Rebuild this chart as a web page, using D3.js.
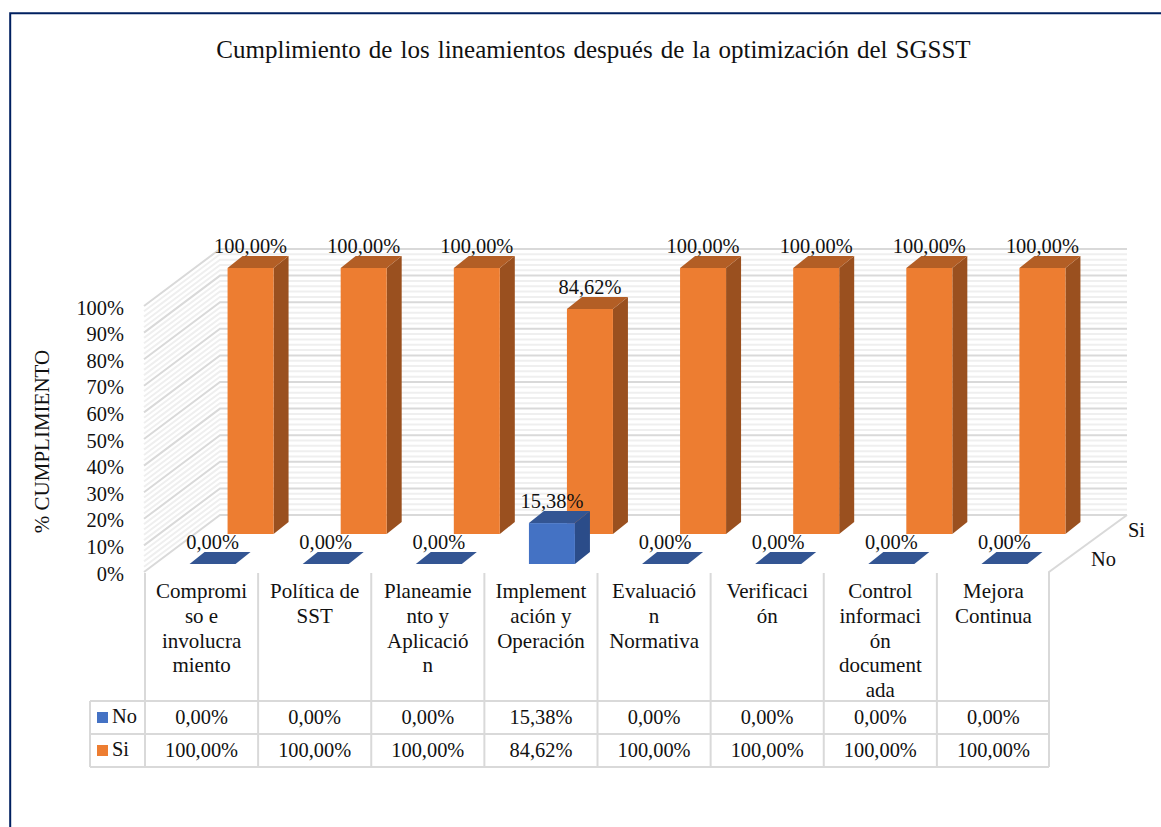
<!DOCTYPE html>
<html><head><meta charset="utf-8">
<script src="https://cdn.jsdelivr.net/npm/d3@7/dist/d3.min.js"></script>
<style>html,body{margin:0;padding:0;background:#fff;overflow:hidden}svg{display:block}text{font-family:"Liberation Serif",serif;fill:#111}</style>
</head><body><svg id="c" width="1161" height="827"></svg>
<script>
const chartTitle = "Cumplimiento de los lineamientos después de la optimización del SGSST";
const yAxisTitle = "% CUMPLIMIENTO";
const categories = ["Compromiso e involucramiento","Política de SST","Planeamiento y Aplicación","Implementación y Operación","Evaluación Normativa","Verificación","Control información documentada","Mejora Continua"];
const categoryLines = [["Compromi","so e","involucra","miento"],["Política de","SST"],["Planeamie","nto y","Aplicació","n"],["Implement","ación y","Operación"],["Evaluació","n","Normativa"],["Verificaci","ón"],["Control","informaci","ón","document","ada"],["Mejora","Continua"]];
const seriesNames = ["No","Si"];
const noValues = [0,0,0,15.38,0,0,0,0];
const siValues = [100,100,100,84.62,100,100,100,100];
const valuesBySeries = {No:noValues, Si:siValues};
const yTicks = [0,10,20,30,40,50,60,70,80,90,100];
const minorTicks = d3.range(0,101,2);
const faceColors = {No:{front:"#4472C4",top:"#335593",side:"#2B4C89"}, Si:{front:"#ED7D31",top:"#B35E25",side:"#9A501F"}};

const svg = d3.select("#c");
const fmt = v => v.toFixed(2).replace(".",",")+"%";
const FS = 20.4;

// frame
svg.append("path").attr("d","M10.2,827V13.2H1161").attr("fill","none").attr("stroke","#002060").attr("stroke-width",2);

// title
svg.append("text").attr("x",593.5).attr("y",58).attr("text-anchor","middle").attr("font-size",25).attr("word-spacing",1.8).text(chartTitle);

// scales
const x = d3.scaleBand().domain(categories).range([145,1050]);
const y = d3.scaleLinear().domain([0,100]).range([572,306]);
const dx = d3.scaleOrdinal().domain(seriesNames).range([11,49]);
const dy = d3.scaleOrdinal().domain(seriesNames).range([8,38]);
const barW = 46, bdx = 15, bdy = 12, wallX = 76, wallY = 57, wallRight = 1127;
const leftX = 144;

// walls
const walls = svg.append("g").attr("fill","none");
const wallPath = v => `M${leftX},${y(v)}L${leftX+wallX},${y(v)-wallY}H${wallRight}`;
walls.selectAll(".mi").data(minorTicks.filter(v=>v%10)).join("path").attr("class","mi").attr("d",wallPath).attr("stroke","#efefef").attr("stroke-width",2);
walls.selectAll(".ma").data(yTicks).join("path").attr("class","ma").attr("d",wallPath).attr("stroke","#d9d9d9").attr("stroke-width",2);
// floor right edge
walls.append("path").attr("d",`M${wallRight},${y(0)-wallY}L1049,${y(0)}V767`).attr("stroke","#d9d9d9").attr("stroke-width",2);

// y axis
const ax = svg.append("g").attr("transform","translate(132,0)").call(d3.axisLeft(y).tickValues(yTicks).tickSize(0).tickPadding(8).tickFormat(d=>d+"%"));
ax.select(".domain").remove();
ax.selectAll("text").attr("font-size",FS).attr("font-family","Liberation Serif").attr("fill","#111").attr("dy",null).attr("dominant-baseline",null).attr("y",8);
svg.append("text").attr("transform","translate(49,441.5) rotate(-90)").attr("text-anchor","middle").attr("font-size",21).text(yAxisTitle);

// bars: back series first
const marks = [];
["Si","No"].forEach(s => categories.forEach((c,i)=>marks.push({s,c,v:valuesBySeries[s][i]})));
const bars = svg.append("g").selectAll("g").data(marks).join("g");
const xl = d => x(d.c)+(x.bandwidth()-barW)/2+dx(d.s);
const yb = d => y(0)-dy(d.s);
const yt = d => y(d.v)-dy(d.s);
bars.append("path").attr("fill",d=>faceColors[d.s].side).attr("d",d=>{const r=xl(d)+barW;return `M${r},${yt(d)}l${bdx},${-bdy}V${yb(d)-bdy}l${-bdx},${bdy}Z`;});
bars.append("rect").attr("fill",d=>faceColors[d.s].front).attr("x",xl).attr("y",yt).attr("width",barW).attr("height",d=>yb(d)-yt(d));
bars.append("path").attr("fill",d=>faceColors[d.s].top).attr("d",d=>`M${xl(d)},${yt(d)}l${bdx},${-bdy}h${barW}l${-bdx},${bdy}Z`);
// labels
svg.append("g").selectAll("text").data(marks).join("text").attr("text-anchor","middle").attr("font-size",FS)
  .attr("x",d=>xl(d)+barW/2).attr("y",d=>yt(d)-15).text(d=>fmt(d.v));

// series axis labels
svg.append("text").attr("x",1128).attr("y",537).attr("font-size",FS).text("Si");
svg.append("text").attr("x",1091).attr("y",566).attr("font-size",FS).text("No");

// data table
const rowY = d3.scaleOrdinal().domain(seriesNames).range([701,734]);
const tableLeft = 90;
const grid = svg.append("g").attr("stroke","#d9d9d9").attr("stroke-width",2).attr("fill","none");
grid.selectAll(".v").data(categories).join("line").attr("class","v").attr("x1",d=>x(d)).attr("x2",d=>x(d)).attr("y1",573).attr("y2",767);
[701,734,767].forEach(v=>grid.append("line").attr("x1",tableLeft).attr("x2",1049).attr("y1",v).attr("y2",v));
grid.append("line").attr("x1",tableLeft).attr("x2",tableLeft).attr("y1",701).attr("y2",767);

categoryLines.forEach((ls,i)=>{
  svg.append("text").attr("text-anchor","middle").attr("font-size",21).selectAll("tspan").data(ls).join("tspan")
    .attr("x",x(categories[i])+x.bandwidth()/2).attr("y",(d,j)=>598+j*24.8).text(d=>d);
});
seriesNames.forEach(s=>{
  const top = rowY(s);
  svg.append("rect").attr("x",97).attr("y",top+11).attr("width",11).attr("height",11).attr("fill",faceColors[s].front);
  svg.append("text").attr("x",112).attr("y",top+22).attr("font-size",FS).text(s);
  svg.append("g").selectAll("text").data(valuesBySeries[s]).join("text").attr("text-anchor","middle").attr("font-size",FS)
    .attr("x",(d,i)=>x(categories[i])+x.bandwidth()/2).attr("y",top+23).text(fmt);
});
</script></body></html>
